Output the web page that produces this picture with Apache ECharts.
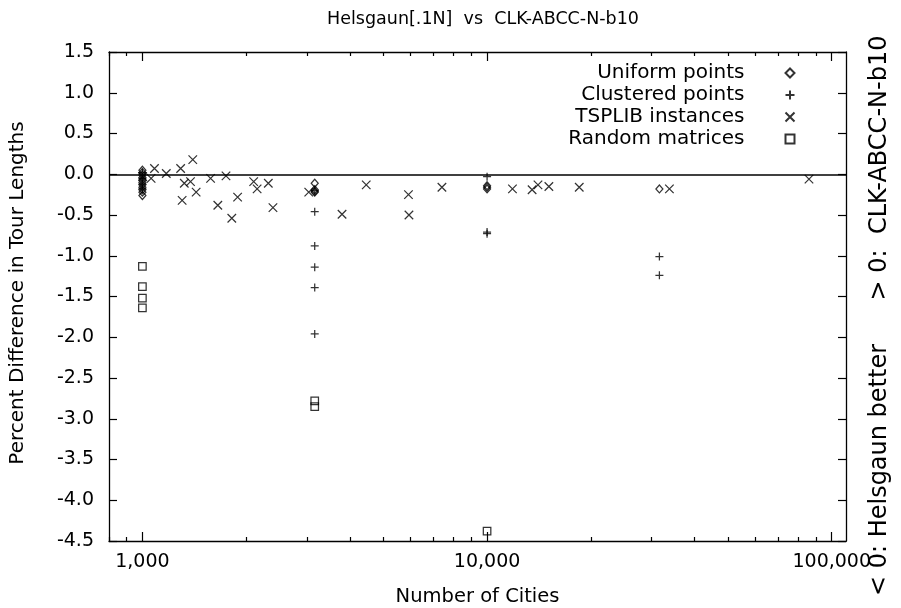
<!DOCTYPE html>
<html>
<head>
<meta charset="utf-8">
<script src="https://cdn.jsdelivr.net/npm/echarts@6/dist/echarts.min.js"></script>
<style>html,body{margin:0;padding:0;background:#fff}#c{width:901px;height:608px}</style>
</head>
<body>
<div id="c"></div>
<script>
// ---- data ----
const uniformN    = [1000,1000,1000,1000,1000,1000,1000,1000,1000,1000,1000, 3162,3162,3162,3162, 10000,10000,10000, 31623];
const uniformDiff = [0.05,0.02,-0.01,-0.04,-0.07,-0.10,-0.13,-0.16,-0.19,-0.22,-0.26, -0.11,-0.19,-0.21,-0.22, -0.14,-0.16,-0.18, -0.18];

const clusteredN    = [1000,1000,1000,1000, 3162,3162,3162,3162,3162,3162, 10000,10000,10000, 31623,31623];
const clusteredDiff = [0.02,-0.05,-0.12,-0.18, -0.20,-0.46,-0.88,-1.14,-1.39,-1.96, -0.03,-0.71,-0.73, -1.01,-1.24];

const tsplibN    = [1002,1060,1084,1173,1291,1304,1323,1379,1400,1432,1577,1655,1748,1817,1889,2103,2152,2319,2392,3038,3795,4461,5915,5934,7397,11849,13509,14051,15112,18512,33810,85900];
const tsplibDiff = [-0.03,-0.05,0.07,0.01,0.07,-0.32,-0.11,-0.09,0.18,-0.22,-0.05,-0.38,-0.02,-0.54,-0.28,-0.09,-0.18,-0.11,-0.41,-0.22,-0.49,-0.13,-0.25,-0.50,-0.16,-0.18,-0.19,-0.13,-0.15,-0.16,-0.18,-0.06];

const randomN    = [1000,1000,1000,1000, 3162,3162, 10000];
const randomDiff = [-1.13,-1.38,-1.52,-1.64, -2.78,-2.85, -4.38];

const seriesNames = ['Uniform points','Clustered points','TSPLIB instances','Random matrices'];
const xMajorTicks = [1000,10000,100000];
const xMinorTicks = [800,900,2000,3000,4000,5000,6000,7000,8000,9000,20000,30000,40000,50000,60000,70000,80000,90000];
const yTickLabels = [-4.5,-4.0,-3.5,-3.0,-2.5,-2.0,-1.5,-1.0,-0.5,0.0,0.5,1.0,1.5];

// ---- chart ----
const FONT = '"DejaVu Sans", Verdana, sans-serif';
const zip = (a,b) => a.map((v,i)=>[v,b[i]]);
const PLUS = 'path://M5,0 L5,10 M0,5 L10,5';
const CROSS = 'path://M0,0 L10,10 M10,0 L0,10';

const chart = echarts.init(document.getElementById('c'), null, {renderer:'canvas'});

function xAx(pos, ticks, len, showLine, labels, name) {
  return {
    type:'log', logBase:10, min:800, max:110000, position:pos,
    axisLine:{show:showLine, onZero:false, lineStyle:{color:'#000', width:1.3}},
    axisTick:{show:true, inside:true, length:len, customValues:ticks, lineStyle:{color:'#000', width:1.2}},
    axisLabel:{show:labels, customValues:xMajorTicks, margin:12, color:'#000', fontSize:19, fontFamily:FONT,
      formatter:v=>Math.round(v).toLocaleString('en-US')},
    splitLine:{show:false}, minorTick:{show:false},
    name: name||'', nameLocation:'middle', nameGap:46,
    nameTextStyle:{color:'#000', fontSize:19.5, fontFamily:FONT}
  };
}
function yAx(pos, labels) {
  return {
    type:'value', min:-4.5, max:1.5, interval:0.5, position:pos,
    axisLine:{show:true, onZero:false, lineStyle:{color:'#000', width:1.3}},
    axisTick:{show:true, inside:true, length:8, lineStyle:{color:'#000', width:1.2}},
    axisLabel:{show:labels, margin:15, color:'#000', fontSize:19, fontFamily:FONT,
      formatter:v=>v.toFixed(1)},
    splitLine:{show:false}
  };
}

const symStyle = {color:'none', borderColor:'#000', borderWidth:1.25};

chart.setOption({
  animation:false,
  backgroundColor:'#fff',
  title:{text:'Helsgaun[.1N]  vs  CLK-ABCC-N-b10', left:478, top:5, textAlign:'center',
    textStyle:{color:'#000', fontSize:17.5, fontWeight:'normal', fontFamily:FONT}},
  grid:{left:109, right:55, top:52, bottom:67, containLabel:false, outerBoundsMode:'none'},
  xAxis:[
    xAx('bottom', xMajorTicks, 9, true, true, 'Number of Cities'),
    xAx('bottom', xMinorTicks, 4, false, false),
    xAx('top', xMajorTicks, 9, true, false),
    xAx('top', xMinorTicks, 4, false, false)
  ],
  yAxis:[ yAx('left', true), yAx('right', false) ],
  legend:{
    data:seriesNames, orient:'vertical', right:99, top:58, align:'right',
    itemWidth:9, itemHeight:9, itemGap:2,
    textStyle:{color:'#000', fontSize:20, fontFamily:FONT, lineHeight:20, padding:[0,36,0,0]}
  },
  graphic:[
    {type:'text', x:18, y:293, rotation:Math.PI/2, style:{text:'Percent Difference in Tour Lengths', fill:'#000', font:'20px '+FONT, textAlign:'center', textVerticalAlign:'middle'}},
    {type:'text', x:880, y:168, rotation:Math.PI/2, style:{text:'> 0:  CLK-ABCC-N-b10', fill:'#000', font:'24px '+FONT, textAlign:'center', textVerticalAlign:'middle'}},
    {type:'text', x:880, y:470, rotation:Math.PI/2, style:{text:'< 0: Helsgaun better', fill:'#000', font:'24px '+FONT, textAlign:'center', textVerticalAlign:'middle'}}
  ],
  series:[
    {name:seriesNames[0], type:'scatter', data:zip(uniformN,uniformDiff), symbol:'diamond', symbolSize:[7,8], itemStyle:symStyle,
      markLine:{silent:true, symbol:'none', label:{show:false}, lineStyle:{color:'#000', width:1.6, type:'solid'}, data:[{yAxis:0}]}},
    {name:seriesNames[1], type:'scatter', data:zip(clusteredN,clusteredDiff), symbol:PLUS, symbolSize:8, itemStyle:symStyle},
    {name:seriesNames[2], type:'scatter', data:zip(tsplibN,tsplibDiff), symbol:CROSS, symbolSize:8.5, itemStyle:symStyle},
    {name:seriesNames[3], type:'scatter', data:zip(randomN,randomDiff), symbol:'rect', symbolSize:7.5, itemStyle:symStyle}
  ]
});
</script>
</body>
</html>
